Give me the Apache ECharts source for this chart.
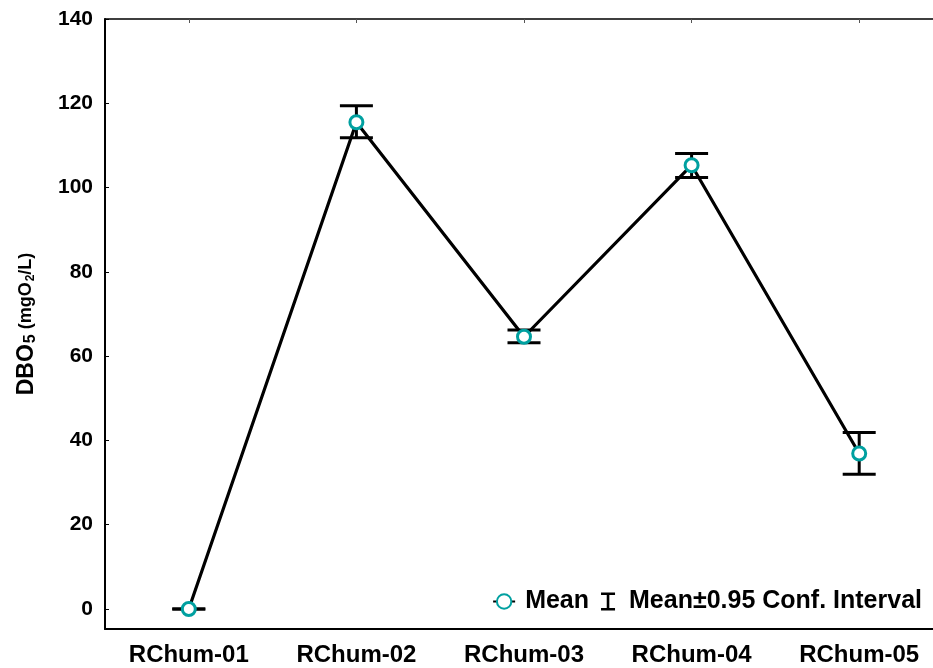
<!DOCTYPE html>
<html>
<head>
<meta charset="utf-8">
<script src="https://cdn.jsdelivr.net/npm/echarts@6/dist/echarts.min.js"></script>
<style>
  html, body { margin: 0; padding: 0; background: #fff; }
  #chart { width: 933px; height: 668px; }
</style>
</head>
<body>
<div id="chart"></div>
<script>
// Sampling sites
const sites = ['RChum-01', 'RChum-02', 'RChum-03', 'RChum-04', 'RChum-05'];
// Mean BOD5 per site (mg O2 / L)
const meanValues = [0, 115.5, 64.6, 105.3, 36.9];
// 95% confidence interval bounds
const ciLower = [0, 111.8, 63.2, 102.4, 32.0];
const ciUpper = [0, 119.4, 66.2, 108.1, 41.9];
// Y-axis tick values
const yTicks = [0, 20, 40, 60, 80, 100, 120, 140];

const FONT = '"Liberation Sans", Arial, sans-serif';
const TEAL = '#00A0A0';

const errorData = sites.map((s, i) => [i, ciLower[i], ciUpper[i]]);

const chart = echarts.init(document.getElementById('chart'), null, { renderer: 'canvas' });

chart.setOption({
  animation: false,
  backgroundColor: '#ffffff',
  grid: {
    left: 105, top: 19, width: 838, height: 610,
    outerBoundsMode: 'none',
    containLabel: false
  },
  legend: {
    right: 6, top: 584,
    itemGap: 12, itemWidth: 22, itemHeight: 18,
    textStyle: { fontFamily: FONT, fontWeight: 'bold', fontSize: 25, color: '#000', padding: [0, 0, 0, 5] },
    data: [
      { name: 'Mean' },
      { name: 'Mean±0.95 Conf. Interval', icon: 'path://M0,0 L14,0 L14,2.6 L8.3,2.6 L8.3,15.4 L14,15.4 L14,18 L0,18 L0,15.4 L5.7,15.4 L5.7,2.6 L0,2.6 Z', itemStyle: { color: '#000' } }
    ]
  },
  xAxis: [
    {
      type: 'category',
      data: sites,
      boundaryGap: true,
      axisLine: { onZero: false, lineStyle: { color: '#000', width: 2 } },
      axisTick: { alignWithLabel: true, length: 4, lineStyle: { color: '#000', width: 1 } },
      axisLabel: { fontFamily: FONT, fontWeight: 'bold', fontSize: 24, color: '#000', margin: 14 }
    },
    {
      type: 'category',
      position: 'top',
      data: sites,
      boundaryGap: true,
      axisLine: { show: true, onZero: false, lineStyle: { color: '#000', width: 1.5 } },
      axisTick: { show: true, inside: true, alignWithLabel: true, length: 4, lineStyle: { color: '#555', width: 1 } },
      axisLabel: { show: false }
    }
  ],
  yAxis: {
    type: 'value',
    min: -4.75, max: 140,
    name: '{b|DBO}{bs|5}{u| (mgO}{us|2}{u|/L)}',
    nameLocation: 'middle',
    nameGap: 66,
    nameRotate: 90,
    nameTextStyle: {
      rich: {
        b: { fontFamily: FONT, fontWeight: 'bold', fontSize: 23, color: '#000' },
        bs: { fontFamily: FONT, fontWeight: 'bold', fontSize: 16, color: '#000', padding: [9, 0, 0, 1] },
        u: { fontFamily: FONT, fontWeight: 'bold', fontSize: 18, color: '#000' },
        us: { fontFamily: FONT, fontWeight: 'bold', fontSize: 12, color: '#000', padding: [8, 0, 0, 1] }
      }
    },
    axisLine: { show: true, lineStyle: { color: '#000', width: 2 } },
    axisTick: { show: true, inside: true, length: 4, customValues: yTicks, lineStyle: { color: '#000', width: 1 } },
    axisLabel: { customValues: yTicks, fontFamily: FONT, fontWeight: 'bold', fontSize: 21, color: '#000', margin: 12 },
    splitLine: { show: false }
  },
  series: [
    {
      name: 'Mean±0.95 Conf. Interval',
      type: 'custom',
      data: errorData,
      z: 3,
      itemStyle: { color: '#000' },
      renderItem: function (params, api) {
        const x = api.value(0);
        const lo = api.coord([x, api.value(1)]);
        const hi = api.coord([x, api.value(2)]);
        const half = 16.5;
        const style = { stroke: '#000', lineWidth: 3, fill: null };
        return {
          type: 'group',
          children: [
            { type: 'line', shape: { x1: hi[0], y1: hi[1], x2: lo[0], y2: lo[1] }, style: style },
            { type: 'line', shape: { x1: hi[0] - half, y1: hi[1], x2: hi[0] + half, y2: hi[1] }, style: style },
            { type: 'line', shape: { x1: lo[0] - half, y1: lo[1], x2: lo[0] + half, y2: lo[1] }, style: style }
          ]
        };
      }
    },
    {
      name: 'Mean',
      type: 'line',
      data: meanValues,
      z: 4,
      symbol: 'circle',
      symbolSize: 13,
      showAllSymbol: true,
      lineStyle: { color: '#000', width: 3.2 },
      itemStyle: { color: '#fff', borderColor: TEAL, borderWidth: 3 }
    }
  ]
});
</script>
</body>
</html>
